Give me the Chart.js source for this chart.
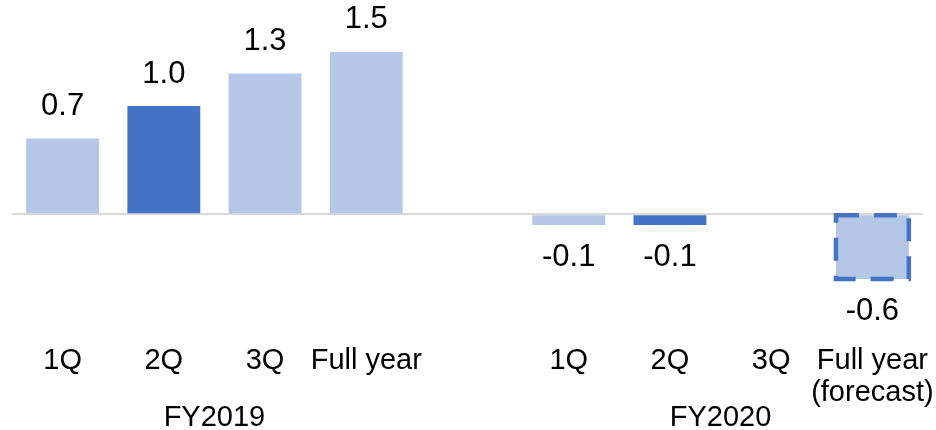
<!DOCTYPE html>
<html>
<head>
<meta charset="utf-8">
<script src="https://cdn.jsdelivr.net/npm/chart.js@4.4.1/dist/chart.umd.min.js"></script>
<style>
  html, body { margin: 0; padding: 0; background: #ffffff; }
  #chart { display: block; }
</style>
</head>
<body>
<canvas id="chart" width="936" height="430"></canvas>
<script>
// Period labels along the bottom axis ('' marks the gap between fiscal years)
const periods = ['1Q', '2Q', '3Q', 'Full year', '', '1Q', '2Q', '3Q', ['Full year', '(forecast)']];
// Year-on-year change for each period (null = not reported)
const growth = [0.7, 1.0, 1.3, 1.5, null, -0.1, -0.1, null, -0.6];
// What each bar represents
const barKind = ['actual', 'latest', 'actual', 'actual', 'none', 'actual', 'latest', 'none', 'forecast'];
// Fiscal-year groups under the period labels
const fiscalYears = ['FY2019', 'FY2020'];

const LIGHT = '#B4C7E7';
const DARK = '#4472C4';
const FONT = '"Liberation Sans", Arial, sans-serif';

// Centre of each fiscal-year group, in category-index units
const groupCenters = (() => {
  const centers = [];
  let start = 0;
  for (let i = 0; i <= periods.length; i++) {
    if (i === periods.length || periods[i] === '') {
      centers.push((start + i - 1) / 2);
      start = i + 1;
    }
  }
  return centers;
})();

// Value labels plus the dashed outline of the forecast bar
const barAnnotations = {
  id: 'barAnnotations',
  afterDatasetsDraw(chart) {
    const ctx = chart.ctx;
    const meta = chart.getDatasetMeta(0);
    ctx.save();
    meta.data.forEach((bar, i) => {
      const v = growth[i];
      if (v === null || v === undefined) return;
      const p = bar.getProps(['x', 'y', 'base', 'width'], true);
      if (barKind[i] === 'forecast') {
        ctx.setLineDash([23, 15]);
        ctx.lineWidth = 4.5;
        ctx.strokeStyle = DARK;
        ctx.strokeRect(p.x - p.width / 2, Math.min(p.y, p.base), p.width, Math.abs(p.base - p.y));
        ctx.setLineDash([]);
      }
      ctx.font = '31px ' + FONT;
      ctx.fillStyle = '#000000';
      ctx.textAlign = 'center';
      ctx.textBaseline = 'middle';
      const offset = 32;
      const ty = v >= 0 ? p.y - offset : p.y + offset;
      ctx.fillText(v.toFixed(1), p.x, ty);
    });
    ctx.restore();
  }
};

// Let the fiscal-year row sit close under the period row
const groupRowSpacing = {
  id: 'groupRowSpacing',
  afterLayout(chart) {
    const s = chart.scales.x2;
    s.top = chart.height - 27;
    s.bottom = chart.height;
  }
};

new Chart(document.getElementById('chart'), {
  type: 'bar',
  data: {
    labels: periods,
    datasets: [{
      data: growth,
      backgroundColor: growth.map((_, i) => barKind[i] === 'latest' ? DARK : LIGHT),
      borderWidth: 0,
      categoryPercentage: 1.0,
      barPercentage: 0.72
    }]
  },
  options: {
    responsive: false,
    animation: false,
    layout: { padding: { left: 12, right: 13, top: 0, bottom: 0 } },
    plugins: {
      legend: { display: false },
      tooltip: { enabled: false }
    },
    scales: {
      x: {
        type: 'category',
        position: 'bottom',
        weight: 0,
        offset: true,
        grid: { display: false, drawTicks: false, tickLength: 0 },
        border: { display: false },
        afterFit: (axis) => { axis.height = 70; },
        ticks: {
          color: '#000000',
          font: { family: FONT, size: 29, lineHeight: 1.1 },
          padding: 1,
          maxRotation: 0,
          autoSkip: false
        }
      },
      x2: {
        type: 'linear',
        position: 'bottom',
        weight: 1,
        offset: false,
        min: -0.5,
        max: periods.length - 0.5,
        grid: { display: false, offset: false, drawTicks: false, tickLength: 0 },
        border: { display: false },
        afterBuildTicks: (axis) => { axis.ticks = groupCenters.map(v => ({ value: v })); },
        afterFit: (axis) => { axis.height = 16; },
        ticks: {
          color: '#000000',
          font: { family: FONT, size: 29, lineHeight: 1.0 },
          padding: 0,
          maxRotation: 0,
          autoSkip: false,
          callback: (value) => {
            const k = groupCenters.indexOf(value);
            return k >= 0 ? fiscalYears[k] : '';
          }
        }
      },
      y: {
        min: -1.2,
        max: 1.98,
        border: { display: false },
        afterBuildTicks: (axis) => { axis.ticks = [{ value: 0 }]; },
        ticks: { display: false },
        grid: {
          drawTicks: false,
          lineWidth: 2,
          color: (c) => (c.tick && c.tick.value === 0 ? '#D9D9D9' : 'rgba(0,0,0,0)')
        }
      }
    }
  },
  plugins: [barAnnotations, groupRowSpacing]
});
</script>
</body>
</html>
